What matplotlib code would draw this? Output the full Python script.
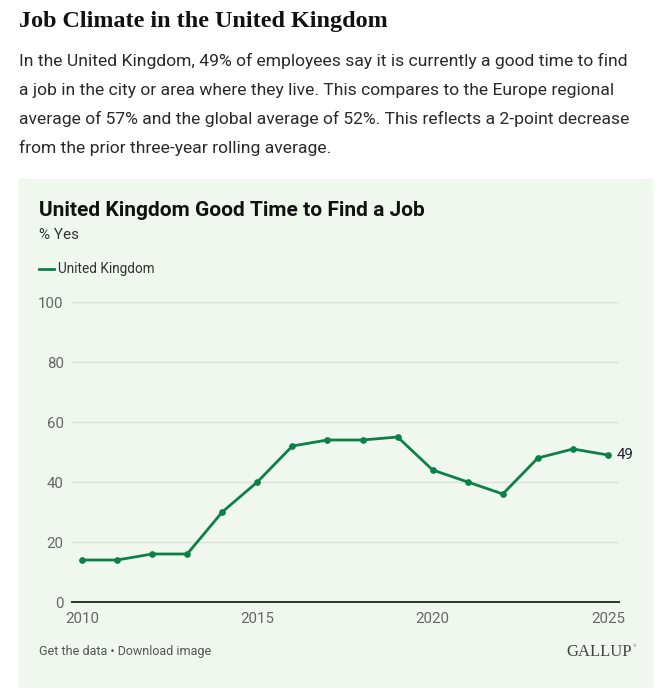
import matplotlib
matplotlib.use("Agg")
import matplotlib.pyplot as plt
from matplotlib.patches import Rectangle
from matplotlib.lines import Line2D

years = [2010, 2011, 2012, 2013, 2014, 2015, 2016, 2017, 2018, 2019, 2020, 2021, 2022, 2023, 2024, 2025]
uk_yes = [14, 14, 16, 16, 30, 40, 52, 54, 54, 55, 44, 40, 36, 48, 51, 49]
y_ticks = [0, 20, 40, 60, 80, 100]
x_ticks = [2010, 2015, 2020, 2025]
series_name = "United Kingdom"

W, H = 664, 692
fig = plt.figure(figsize=(W / 100, H / 100), dpi=100)
fig.patch.set_facecolor("white")

def fx(px):
    return px / W

def fy(py):
    return 1 - py / H

GREEN = "#0b8048"
BG = "#f0f7ef"

# panel background
fig.patches.append(Rectangle((fx(19), fy(688)), fx(653) - fx(19), fy(179) - fy(688),
                             transform=fig.transFigure, facecolor=BG, edgecolor="none", zorder=-5))

# Header texts
fig.text(fx(19), fy(22), "Job Climate in the United Kingdom", family="Liberation Serif",
         fontweight="bold", fontsize=17.4, color="#111111", va="center", ha="left")
body = ["In the United Kingdom, 49% of employees say it is currently a good time to find",
        "a job in the city or area where they live. This compares to the Europe regional",
        "average of 57% and the global average of 52%. This reflects a 2-point decrease",
        "from the prior three-year rolling average."]
for i, line in enumerate(body):
    fig.text(fx(19), fy(61 + i * 29), line, family="Roboto", fontsize=12.6,
             color="#2a2a2a", va="center", ha="left")

# chart title
fig.text(fx(39), fy(211), "United Kingdom Good Time to Find a Job", family="Roboto",
         fontweight="bold", fontsize=15, color="#111111", va="center", ha="left")
fig.text(fx(39), fy(235), "% Yes", family="Roboto", fontsize=11, color="#333333",
         va="center", ha="left")

# legend
fig.lines.append(Line2D([fx(39), fx(54)], [fy(269), fy(269)], transform=fig.transFigure,
                        color=GREEN, lw=2))
fig.text(fx(58), fy(269), series_name, family="Roboto", fontsize=9.8, color="#333333",
         va="center", ha="left")

# axes
x0, x1 = 72, 619
ytop, ybot = 302, 602
ax = fig.add_axes([fx(x0), fy(ybot), fx(x1) - fx(x0), fy(ytop) - fy(ybot)])
ax.set_facecolor("none")
px_per_year = (608 - 82) / 15
ax.set_xlim(2010 - (82 - x0) / px_per_year, 2025 + (x1 - 608) / px_per_year)
ax.set_ylim(0, 100)
for s in ["top", "right", "left"]:
    ax.spines[s].set_visible(False)
ax.spines["bottom"].set_color("#333333")
ax.spines["bottom"].set_linewidth(1.4)
ax.set_yticks(y_ticks)
ax.set_xticks(x_ticks)
ax.tick_params(axis="y", length=0, pad=6, labelsize=10.8, labelcolor="#666666")
ax.tick_params(axis="x", length=0, pad=7, labelsize=10.8, labelcolor="#666666")
for lab in ax.get_xticklabels() + ax.get_yticklabels():
    lab.set_family("Roboto")
ax.grid(axis="y", color="#dbe2da", lw=1)
ax.set_axisbelow(True)

ax.plot(years, uk_yes, color=GREEN, lw=2, marker="o", markersize=3.8, clip_on=False, zorder=3)
ax.annotate(str(uk_yes[-1]), (years[-1], uk_yes[-1]), xytext=(6, 0), textcoords="offset points",
            va="center", ha="left", fontsize=10.8, family="Roboto", color="#222233")

# footer
fig.text(fx(39), fy(652), "Get the data \u2022 Download image", family="Roboto", fontsize=9,
         color="#555555", va="center", ha="left")
fig.text(fx(632), fy(652), "GALLUP", family="Liberation Serif", fontsize=12,
         color="#444444", va="center", ha="right")
fig.text(fx(633), fy(646), "\u00ae", family="Liberation Serif", fontsize=3.5,
         color="#555555", va="center", ha="left")

fig.savefig("out.png", dpi=100, facecolor="white")
